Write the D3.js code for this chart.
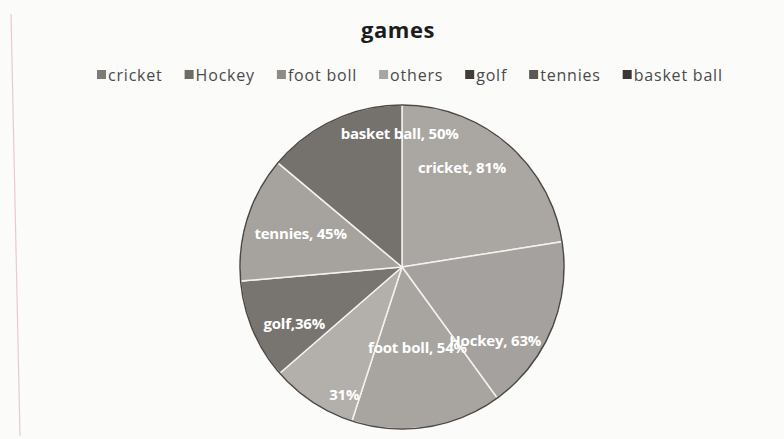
<!DOCTYPE html>
<html>
<head>
    <meta charset="utf-8">
    <script src="https://d3js.org/d3.v7.min.js"></script>
    <style>
        body {
            margin: 0;
            background: #fbfbfa;
            font-family: 'Open Sans', sans-serif;
        }
    </style>
</head>

<body>
    <div id="my_dataviz"></div>
</body>
<script>
// data (values add up to 360)
const games  = ["cricket", "Hockey", "foot boll", "others", "golf", "tennies", "basket ball"];
const values = [81, 63, 54, 31, 36, 45, 50];
const labels = ["cricket, 81%", "Hockey, 63%", "foot boll, 54%", "31%", "golf,36%", "tennies, 45%", "basket ball, 50%"];

// look
const colors = ["#aaa6a2", "#a5a19e", "#a8a5a1", "#b3afab", "#78746f", "#a6a39f", "#75716d"];
const legendColors = ["#7e7a76", "#6f6b67", "#8e8a86", "#a9a5a1", "#3f3c39", "#5c5955", "#3a3735"];
// label radius (fraction of R) and angle nudge (deg), like Excel's "best fit"
const labelR     = [0.72, 0.73, 0.50, 0.86, 0.75, 0.66, 0.83];
const labelNudge = [-9.5, 15.5, -2, -9, -4.5, 1, 24];

const width = 784, height = 439;
const cx = 402, cy = 267, R = 162;

let svg = d3.select("#my_dataviz")
  .append("svg")
    .attr("width", width)
    .attr("height", height);

// faint margin line of the paper
svg.append("line")
  .attr("x1", 11).attr("y1", 14)
  .attr("x2", 20).attr("y2", 436)
  .attr("stroke", "#e9c9cf")
  .attr("stroke-width", 1.2);

// title
svg.append("text")
  .attr("x", 398)
  .attr("y", 38)
  .attr("text-anchor", "middle")
  .attr("font-size", "22px")
  .attr("font-weight", "bold")
  .attr("letter-spacing", "0.5px")
  .attr("fill", "#1c1c1c")
  .text("games");

// legend, laid out left to right
let legend = svg.append("g").attr("transform", "translate(97,75)");
let lx = 0;
games.forEach((g, i) => {
  let item = legend.append("g").attr("transform", `translate(${lx},0)`);
  item.append("rect")
    .attr("x", 0).attr("y", -5)
    .attr("width", 9).attr("height", 9)
    .attr("fill", legendColors[i]);
  let t = item.append("text")
    .attr("x", 11)
    .attr("y", 0)
    .attr("dominant-baseline", "central")
    .attr("font-size", "16px")
    .attr("letter-spacing", "0.8px")
    .attr("fill", "#4a4a4a")
    .text(g);
  lx += 11 + t.node().getComputedTextLength() + 22;
});

// pie
const pie = d3.pie().sort(null).value(d => d);
const arcs = pie(values);
const arc = d3.arc().innerRadius(0).outerRadius(R);

let chart = svg.append("g").attr("transform", `translate(${cx},${cy})`);

chart.selectAll("path.slice")
  .data(arcs)
  .join("path")
    .attr("class", "slice")
    .attr("d", arc)
    .attr("fill", (d, i) => colors[i])
    .attr("stroke", "#f4f2ef")
    .attr("stroke-width", 1.5);

chart.append("circle")
  .attr("r", R)
  .attr("fill", "none")
  .attr("stroke", "#4b4845")
  .attr("stroke-width", 1.5);

// data labels (foot boll and Hockey run into each other, as in the original)
chart.selectAll("text.lbl")
  .data(arcs)
  .join("text")
    .attr("class", "lbl")
    .attr("transform", (d, i) => {
      const a = (d.startAngle + d.endAngle) / 2 + labelNudge[i] * Math.PI / 180;
      const r = R * labelR[i];
      return `translate(${r * Math.sin(a)},${-r * Math.cos(a)})`;
    })
    .attr("text-anchor", "middle")
    .attr("dominant-baseline", "central")
    .attr("font-size", "15px")
    .attr("font-weight", "bold")
    .attr("letter-spacing", "-0.2px")
    .attr("fill", "#ffffff")
    .text((d, i) => labels[i]);
</script>
</html>
